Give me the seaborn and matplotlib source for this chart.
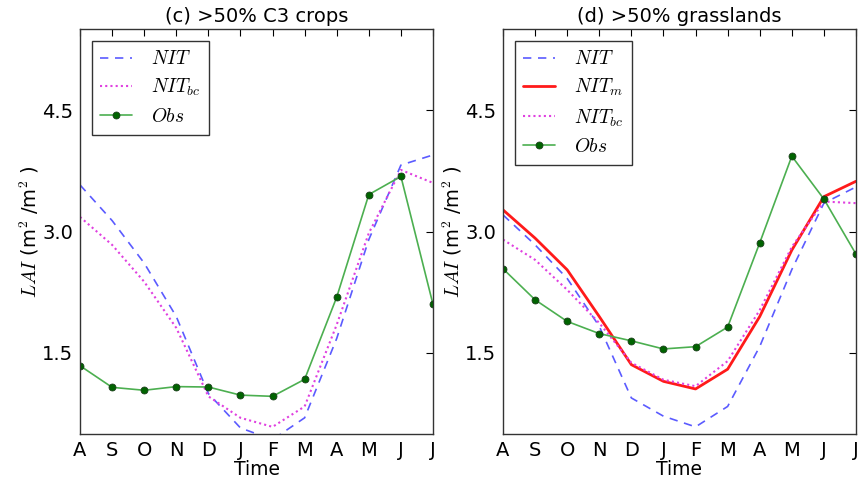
import matplotlib
matplotlib.use("Agg")
import matplotlib.pyplot as plt
import seaborn as sns
import pandas as pd
import numpy as np

months = ['A', 'S', 'O', 'N', 'D', 'J', 'F', 'M', 'A', 'M', 'J', 'J']

# (c) >50% C3 crops
c3_nit = [3.575, 3.135, 2.61, 1.95, 1.0, 0.575, 0.43, 0.70, 1.68, 2.9, 3.82, 3.945]
c3_nit_bc = [3.18, 2.835, 2.38, 1.81, 0.965, 0.70, 0.588, 0.84, 1.85, 2.98, 3.76, 3.60]
c3_obs = [1.343, 1.076, 1.04, 1.085, 1.08, 0.98, 0.965, 1.175, 2.19, 3.456, 3.68, 2.10]

# (d) >50% grasslands
gr_nit = [3.205, 2.835, 2.42, 1.83, 0.945, 0.72, 0.588, 0.84, 1.58, 2.53, 3.35, 3.55]
gr_nit_m = [3.267, 2.918, 2.527, 1.95, 1.356, 1.15, 1.056, 1.30, 1.95, 2.77, 3.43, 3.62]
gr_nit_bc = [2.90, 2.65, 2.28, 1.87, 1.38, 1.17, 1.09, 1.40, 2.03, 2.81, 3.37, 3.35]
gr_obs = [2.54, 2.157, 1.89, 1.74, 1.65, 1.55, 1.578, 1.82, 2.86, 3.93, 3.40, 2.72]

sns.set_theme(style="white")
plt.rcParams['font.family'] = ['DejaVu Sans']
plt.rcParams['mathtext.fontset'] = 'cm'
plt.rcParams['text.color'] = 'black'
plt.rcParams['axes.labelcolor'] = 'black'

fig = plt.figure(figsize=(8.66, 4.79), dpi=100)
W, H = 866, 479
ax1 = fig.add_axes([80 / W, 1 - 434 / H, 353 / W, 405 / H])
ax2 = fig.add_axes([503 / W, 1 - 434 / H, 353 / W, 405 / H])

x = np.arange(len(months))

def draw(ax, series, title):
    for label, vals, kw in series:
        df = pd.DataFrame({'t': x, 'v': vals})
        sns.lineplot(data=df, x='t', y='v', ax=ax, label=label, sort=False, **kw)
    ax.set_xlim(0, 11)
    ax.set_ylim(0.5, 5.5)
    ax.set_yticks([1.5, 3.0, 4.5])
    ax.set_yticklabels(['1.5', '3.0', '4.5'])
    ax.set_xticks(x)
    ax.set_xticklabels(months)
    ax.tick_params(direction='in', top=True, right=True, length=5, width=0.8,
                   labelsize=14, colors='black', pad=5)
    for s in ax.spines.values():
        s.set_color('#333333')
        s.set_linewidth(1.0)
    ax.set_title(title, fontsize=14, pad=5, color='black')
    ax.set_xlabel('Time', fontsize=13.5, labelpad=0)
    ax.set_ylabel(r'$LAI$ (m$^2$ /m$^2$ )', fontsize=14, labelpad=1)
    leg = ax.legend(loc='upper left', fontsize=14, frameon=True, fancybox=False,
                    handlelength=1.6, borderpad=0.45, labelspacing=0.45,
                    handletextpad=1.0, borderaxespad=0.6)
    leg.get_frame().set_edgecolor('black')
    leg.get_frame().set_linewidth(1.0)
    ax.grid(False)

nit_kw = dict(color='#5b5bff', linestyle=(0, (5, 4)), linewidth=1.2)
nitm_kw = dict(color='#ff1a1a', linestyle='-', linewidth=2.0)
nitbc_kw = dict(color='#e040e0', linestyle=(0, (1, 1.5)), linewidth=1.5)
obs_kw = dict(color='#4caf50', linestyle='-', linewidth=1.2, marker='o',
              markersize=5, markerfacecolor='#006400', markeredgecolor='#1a3d1a',
              markeredgewidth=0.6)

draw(ax1, [(r'$NIT$', c3_nit, nit_kw),
           (r'$NIT_{bc}$', c3_nit_bc, nitbc_kw),
           (r'$Obs$', c3_obs, obs_kw)], '(c) >50% C3 crops')
draw(ax2, [(r'$NIT$', gr_nit, nit_kw),
           (r'$NIT_{m}$', gr_nit_m, nitm_kw),
           (r'$NIT_{bc}$', gr_nit_bc, nitbc_kw),
           (r'$Obs$', gr_obs, obs_kw)], '(d) >50% grasslands')

fig.savefig('out.png', dpi=100)
